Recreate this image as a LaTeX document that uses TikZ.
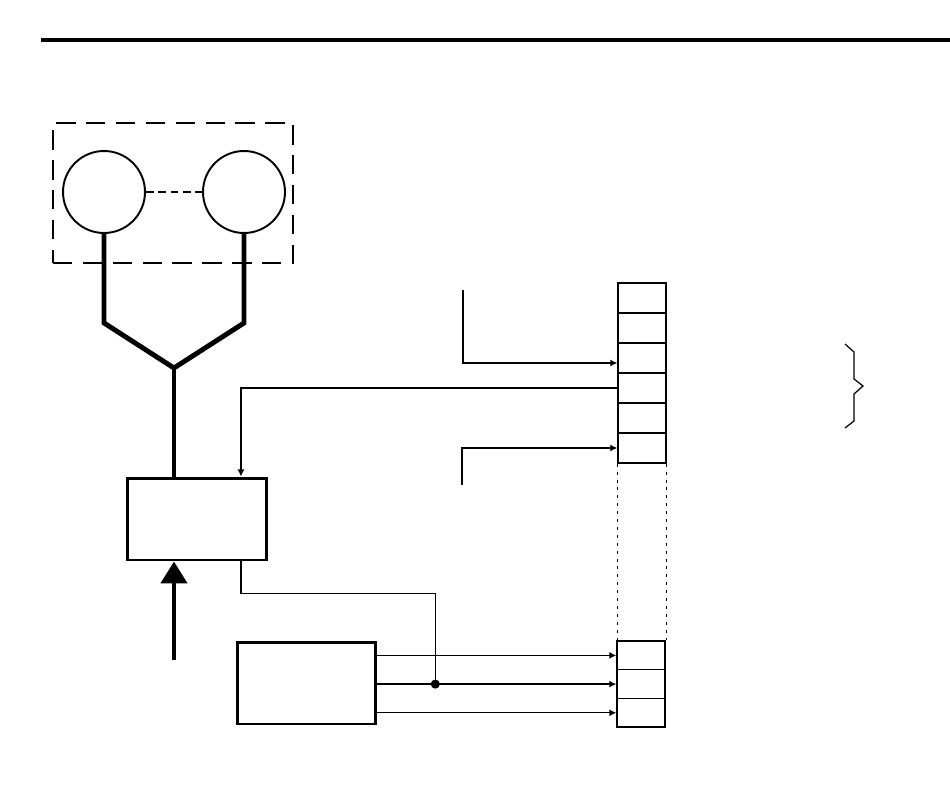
\documentclass[tikz,border=0pt]{standalone}
\usetikzlibrary{arrows.meta}

\begin{document}
\begin{tikzpicture}[x=0.02cm,y=-0.02cm,
    sig/.style={line width=0.7pt},
    tip/.style={-{Latex[length=4pt,width=4pt]}},
    bus/.style={line width=2.8pt},
    unit/.style={draw,line width=1.7pt,inner sep=0pt,minimum width=2.77cm,minimum height=1.64cm},
    cell/.style={draw,line width=0.8pt,inner sep=0pt,minimum width=0.96cm}]
  \useasboundingbox (0,0) rectangle (950,794);
  \draw[line width=2.3pt] (41,40) -- (950,40);

  % group of two drums
  \node[draw,line width=1.5pt,dash pattern=on 11pt off 6pt,inner sep=0pt,
        minimum width=4.8cm,minimum height=2.8cm] (group) at (173,193) {};
  \node[draw,circle,line width=1.1pt,inner sep=0pt,minimum size=1.64cm] (drumL) at (104,192) {};
  \node[draw,circle,line width=1.1pt,inner sep=0pt,minimum size=1.64cm] (drumR) at (244,192) {};
  \draw[line width=0.8pt,dash pattern=on 4.5pt off 2.5pt] (drumL) -- (drumR);

  \node[unit] (ctrl) at (197,519) {};
  \node[unit] (dev) at (306.5,683) {};

  % registers
  \foreach \i in {1,...,6}
    \node[cell,minimum height=0.6cm] (up\i) at (642,{268+30*\i}) {};
  \foreach \i in {1,2,3}
    \node[cell,minimum height=0.574cm] (low\i) at (641,{626.7+28.7*\i}) {};
  \draw[line width=0.9pt,dash pattern=on 1.7pt off 2.8pt] (up6.south west) -- (up6.south west |- low1.north);
  \draw[line width=0.9pt,dash pattern=on 1.7pt off 2.8pt] (up6.south east) -- (up6.south east |- low1.north);

  % thick bus
  \coordinate (join) at (174,368);
  \draw[bus] (drumL.south) -- ++(0,89) -- (join);
  \draw[bus] (drumR.south) -- ++(0,89) -- (join);
  \draw[bus] (join) -- (join |- ctrl.north);
  \coordinate (feed) at (174,660);
  \draw[bus,-{Triangle[width=14.7pt,length=12.5pt]}] (feed) -- (feed |- ctrl.south);

  % signals
  \coordinate (srcA) at (463,290);
  \coordinate (srcB) at (462,485);
  \draw[sig,tip] (srcA) |- ([yshift=-0.1cm]up3.west);
  \draw[sig,tip] (up4.west) -| ([xshift=0.88cm]ctrl.north);
  \draw[sig,tip] (srcB) |- (up6.west);
  \foreach \i in {1,2,3}
    \draw[sig,tip] (dev.east |- low\i.west) -- (low\i.west);
  \path (low2.west) ++(-181,0) coordinate (tap);
  \draw[sig] ([xshift=0.88cm]ctrl.south) -- ++(0,32) -| (tap);
  \fill (tap) circle[radius=2.6pt];

  % brace
  \draw[line width=0.7pt] (845,344) -- (854,352) -- (854,379) -- (863,386)
    -- (854,394) -- (854,421) -- (845,428);
\end{tikzpicture}
\end{document}
